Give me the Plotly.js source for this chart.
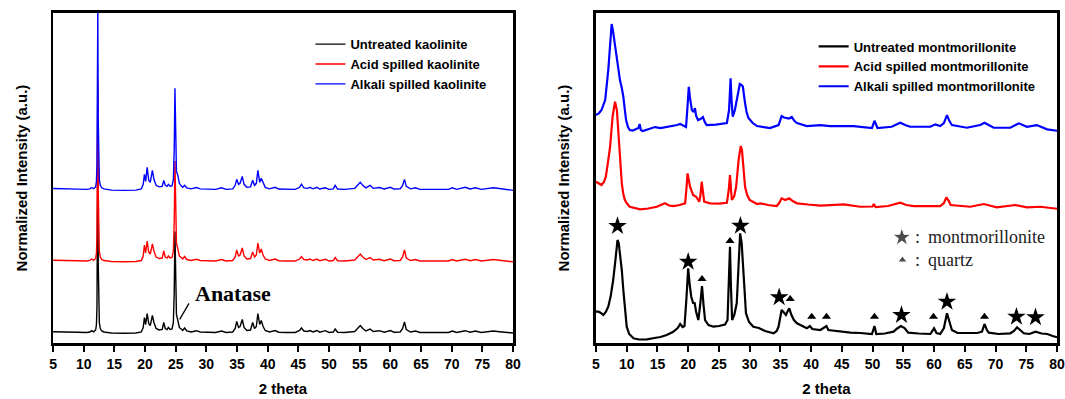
<!DOCTYPE html>
<html>
<head>
<meta charset="utf-8">
<script src="https://cdn.plot.ly/plotly-3.0.1.min.js"></script>
<style>html,body{margin:0;padding:0;background:#fff;}#chart{width:1065px;height:399px;}</style>
</head>
<body>
<div id="chart"></div>
<script>
// ---------- Kaolinite (left panel): 2-theta grid and intensities above each trace's own baseline ----------
const kaoX = [5.0, 6.0, 7.5, 9.0, 10.5, 11.0, 11.3, 11.6, 11.95, 12.08, 12.16, 12.23, 12.3, 12.37, 12.45, 12.55, 12.7, 12.95, 13.3, 14.5,
  16.5, 18.5, 19.4, 19.7, 19.9, 20.1, 20.35, 20.6, 20.85, 21.2, 21.45, 21.8, 22.3, 22.8, 23.05, 23.3, 23.6, 23.8, 24.1, 24.4,
  24.62, 24.76, 24.88, 25.0, 25.12, 25.35, 25.6, 25.9, 26.15, 26.45, 26.8, 27.5, 28.0, 28.4, 29.0, 30.0, 31.5, 32.5, 33.2, 34.3,
  34.7, 34.95, 35.25, 35.5, 35.85, 36.15, 36.6, 37.2, 37.55, 37.85, 38.15, 38.4, 38.7, 38.95, 39.25, 39.6, 40.3, 41.2, 41.8, 43.0,
  44.5, 45.2, 45.5, 45.9, 46.5, 46.9, 47.4, 48.0, 48.5, 49.4, 50.0, 50.7, 51.0, 51.4, 52.5, 54.2, 54.8, 55.1, 55.5, 56.0,
  56.7, 57.2, 58.2, 59.0, 60.0, 60.6, 61.6, 62.0, 62.3, 62.6, 63.3, 64.1, 64.8, 66.5, 68.0, 69.5, 70.1, 70.8, 72.2, 73.0,
  73.9, 74.8, 76.0, 76.8, 77.8, 79.0, 80.0];
const kaoUntreated = [0.8, 0.5, 0.3, 0.2, 0, 0.5, 1.8, 0.6, 2.5, 8, 25, 70, 180, 70, 25, 10, 4, 1.5, 0.5, -0.5,
  -0.8, -0.5, 0.5, 5, 15, 8, 19, 9, 7, 17, 10, 4, 2.5, 3, 10, 4, 3, 5, 3, 3.5,
  10, 40, 101, 40, 18, 12, 5, 3.5, 2, 4.5, 1.5, 0.5, 1, 1.8, 0.5, 0, 0, 1.5, 0, 0.5,
  4, 11, 5, 6, 13, 5, 2, 2.5, 10, 4, 6, 19, 8, 12, 6, 2, 0.5, 2, 0.3, 0,
  0, 2, 4.5, 1.5, 1, 2, 0.5, 2, 0.3, 1.8, 0, 0.5, 3.5, 0.3, 0, 1, 5, 7, 4, 1.5,
  3.5, 1, 1.8, 0.3, 2, 0.3, 0.5, 4, 10.5, 3, 0.5, 1.5, 0, 0.3, 0, 0, 1.5, 0, 1.8, 0.3,
  1.5, 0, 0.5, 1.5, 0.8, 0, -0.5];
const kaoAcid = [0.8, 0.5, 0.3, 0.2, 0, 0.6, 2, 0.6, 2.5, 8, 25, 70, 180, 70, 25, 10, 4, 1.5, 0.5, -0.5,
  -0.8, -0.5, 0.5, 5, 16, 8, 20, 9, 7, 17, 10, 4, 2.5, 3, 10, 4, 3, 5, 3, 3.5,
  10, 40, 100, 40, 18, 12, 5, 3.5, 2, 4.5, 1.5, 0.5, 1, 1.8, 0.5, 0, 0, 1.5, 0, 0.5,
  4, 11, 5, 6, 13, 5, 2, 2.5, 9, 4, 6, 18, 8, 12, 6, 2, 0.5, 2, 0.3, 0,
  0, 2, 4.5, 1.5, 1, 2, 0.5, 2, 0.3, 1.8, 0, 0.5, 3.5, 0.3, 0, 1, 5, 7, 4, 1.5,
  3.5, 1, 1.8, 0.3, 2, 0.3, 0.5, 4, 11, 3, 0.5, 1.5, 0, 0.3, 0, 0, 1.5, 0, 1.8, 0.3,
  1.5, 0, 0.5, 1.5, 0.8, 0, -0.8];
const kaoAlkali = [0.8, 0.5, 0.3, 0.2, 0, 0.5, 1.8, 0.6, 2.5, 8, 25, 70, 180, 70, 25, 10, 4, 1.5, 0.5, -0.8,
  -1, -0.8, 0.5, 5, 15, 8, 22, 9, 7, 19, 10, 4, 2.5, 3, 9, 4, 3, 5, 3, 3.5,
  10, 40, 101, 40, 18, 14, 6, 3.5, 2, 4, 1.5, 0.5, 1, 1.8, 0.5, 0, 0, 1.5, 0, 0.5,
  4, 10, 5, 6, 13, 5, 2, 2.5, 9, 4, 6, 19, 7, 11, 6, 2, 0.5, 2, 0.3, 0,
  0, 2, 5, 1.5, 1, 2, 0.5, 2, 0.3, 1.5, 0, 0.5, 4, 0.3, 0, 1, 5, 7, 4, 1.5,
  4, 1, 1.8, 0.3, 2, 0.3, 0.5, 4, 10, 3, 0.5, 1.5, 0, 0.3, 0, 0, 1.5, 0, 2, 0.3,
  1.5, 0, 0.5, 1.5, 0.8, 0, -1];

// ---------- Montmorillonite (right panel) ----------
const monUntreatedX = [5.0, 5.4, 5.8, 6.2, 6.6, 7.0, 7.4, 7.8, 8.2, 8.5, 8.7, 8.9, 9.2, 9.45, 9.75, 10.0, 10.4, 11.1, 12.0, 13.3,
  14.5, 15.5, 16.5, 17.5, 18.3, 18.7, 19.1, 19.4, 19.7, 20.0, 20.25, 20.5, 20.8, 21.05, 21.3, 21.65, 21.95, 22.25, 22.5, 22.75,
  23.3, 24.1, 25.0, 26.0, 26.4, 26.65, 26.8, 26.95, 27.15, 27.5, 27.9, 28.2, 28.45, 28.7, 28.9, 29.15, 29.4, 29.9, 30.6, 31.5,
  32.5, 33.9, 34.4, 34.7, 35.0, 35.2, 35.5, 35.9, 36.2, 36.45, 36.8, 37.2, 37.7, 38.5, 39.3, 39.8, 40.2, 41.5, 42.5, 42.8,
  44.0, 46.4, 48.0, 49.9, 50.3, 50.6, 52.0, 53.4, 54.0, 54.6, 55.2, 55.8, 57.5, 59.4, 60.0, 60.4, 61.0, 61.6, 62.1, 62.5,
  62.9, 63.8, 65.3, 67.0, 67.8, 68.2, 68.6, 68.9, 70.5, 72.4, 73.0, 73.5, 74.0, 74.6, 75.5, 76.5, 77.5, 78.4, 79.3, 80.0];
const monUntreated = [31.6, 31.6, 30.3, 28.3, 31.3, 36.6, 47.3, 63.3, 85.3, 103.3, 100.3, 90, 73.3, 53.3, 31.3, 16.6, 9.3, 5, 3.8, 4,
  5.3, 6.3, 8.3, 11.3, 15.3, 19.3, 16.3, 17.3, 43.3, 75, 58.3, 46.6, 40.3, 40.3, 31.3, 23.3, 38.3, 57.3, 38.3, 23.3,
  18.3, 16.6, 17.3, 18.8, 23.3, 63.3, 96.6, 58.3, 23.3, 28.3, 40, 78.3, 110, 100.3, 80, 53.3, 30, 21.3, 16.6, 15.3,
  12.3, 10, 12.3, 16.6, 28.3, 33.3, 31.3, 28.3, 32.3, 35, 28.3, 23.3, 20, 17.3, 15, 17.3, 14.3, 13.3, 17.3, 13.3,
  12.3, 10.6, 10.3, 9.3, 17.3, 9.3, 9.8, 11.6, 14.8, 17.3, 15.3, 10.6, 9.8, 9.3, 15, 10.3, 9.3, 15.3, 30, 21.3,
  13.3, 10.3, 10, 10.3, 11.6, 19.3, 13.3, 10.6, 9.3, 10, 12.3, 16, 13.3, 10, 9.3, 11.6, 9.8, 9.3, 7.3, 6];

const monAcidX = [5.0, 5.5, 5.9, 6.3, 6.6, 7.0, 7.3, 7.7, 8.1, 8.4, 8.6, 8.8, 9.0, 9.2, 9.45, 9.7, 10.1, 10.5, 12.2, 13.5,
  14.9, 15.7, 16.2, 16.9, 17.6, 18.6, 19.5, 19.7, 19.9, 20.1, 20.3, 20.8, 21.3, 21.8, 22.0, 22.2, 22.4, 22.6, 23.6, 25.0,
  26.3, 26.6, 26.8, 26.95, 27.1, 27.5, 27.8, 28.2, 28.55, 28.75, 28.9, 29.25, 29.6, 30.0, 31.2, 31.7, 33.0, 34.4, 34.8, 35.2,
  35.8, 36.45, 37.0, 37.7, 39.5, 41.5, 43.1, 45.3, 48.0, 50.0, 50.2, 50.5, 52.5, 54.5, 55.5, 56.7, 59.0, 61.0, 61.6, 62.0,
  62.4, 62.7, 65.9, 68.1, 70.2, 73.2, 75.1, 77.3, 80.0];
const monAcid = [41.6, 39.3, 38.3, 41.3, 46.6, 63.3, 76.6, 106.6, 121.6, 113.3, 93.3, 70, 53.3, 40, 29.3, 23.3, 19.3, 16.6, 14, 14.8,
  16.6, 18.8, 20, 17.8, 17.3, 18.3, 20, 33.3, 50, 43.3, 36.6, 28.3, 26.6, 21.6, 28.3, 41.6, 28.3, 21.6, 20, 19.8,
  20.6, 33.3, 48.3, 33.3, 23.3, 27.3, 36.6, 63.3, 77.3, 73.3, 60, 36.6, 28.3, 23.3, 19.3, 20, 18.3, 17.3, 20.3, 25,
  23.3, 25, 22.3, 20, 18.8, 17.8, 18.3, 19, 16.6, 16.8, 19.3, 16.3, 17.3, 20.6, 18.3, 17.3, 17.3, 17.3, 20.3, 26,
  22.3, 18.3, 16.6, 19.3, 16, 18.3, 16, 16.6, 14.6];

const monAlkaliX = [5.0, 5.5, 5.9, 6.5, 7.0, 7.3, 7.55, 7.75, 7.9, 8.15, 8.4, 8.65, 8.9, 9.2, 9.45, 9.7, 9.9, 10.2, 10.5, 11.0,
  11.6, 11.9, 12.1, 12.3, 12.6, 13.5, 14.6, 15.5, 17.05, 18.2, 18.7, 19.3, 19.65, 19.85, 20.1, 20.3, 20.6, 20.9, 21.1, 21.3,
  21.6, 22.0, 22.4, 22.7, 23.0, 24.5, 26.3, 26.65, 26.9, 27.05, 27.25, 27.6, 27.9, 28.2, 28.4, 28.7, 28.9, 29.25, 29.5, 29.8,
  30.5, 31.2, 33.3, 34.7, 35.0, 35.2, 35.6, 36.0, 36.4, 36.85, 37.3, 37.7, 39.3, 41.5, 43.1, 46.9, 49.9, 50.3, 50.8, 53.1,
  54.5, 55.3, 56.1, 59.4, 60.2, 61.0, 61.6, 62.1, 62.5, 62.9, 65.35, 67.5, 68.2, 69.7, 72.4, 73.8, 75.1, 76.7, 78.4, 80.0];
const monAlkali = [28.3, 30.3, 33.3, 43.3, 73.3, 103.3, 119.3, 113.3, 106.6, 95.3, 83.3, 73.3, 63.3, 55.3, 46.6, 33.3, 23.3, 16.3, 13.3, 12.8,
  14.3, 15.3, 19.3, 13.3, 12.3, 14.3, 16.3, 15.3, 16.6, 18.3, 19.3, 17.3, 16.3, 33.3, 56.6, 45.3, 33.3, 31.3, 35.3, 27.3,
  23.3, 24.3, 26.3, 21.3, 18.3, 18.8, 20.3, 33.3, 65, 43.3, 26.6, 33.3, 43.3, 55.3, 59.3, 58.3, 56.6, 40.3, 31.3, 25.3,
  20.3, 17.3, 15.3, 18.3, 23.3, 27.3, 25.8, 25.3, 24.8, 26.3, 22.3, 20.3, 17.3, 18.3, 17.3, 17.3, 15.3, 22.6, 15.3, 16.6,
  20.6, 18.3, 16.6, 16.6, 19, 17.3, 20.3, 28.3, 22.3, 18.3, 15.6, 18.3, 20.6, 15.6, 15.6, 20, 16.6, 18.3, 14, 12.6];

// Peak assignments on the untreated montmorillonite pattern
const montPeakX = [8.5, 20.0, 28.5, 34.8, 54.7, 62.1, 73.4, 76.5];
const montPeakY = [117.3, 81.6, 117.6, 46, 28.3, 41.6, 26.6, 26];
const quartzPeakX = [22.25, 26.8, 36.6, 40.1, 42.5, 50.3, 59.9, 68.2];
const quartzPeakY = [64.3, 102.3, 44.3, 26.6, 26.6, 26.6, 26.6, 26.6];

const kaoNames = ['Untreated kaolinite', 'Acid spilled kaolinite', 'Alkali spilled kaolinite'];
const monNames = ['Untreated montmorillonite', 'Acid spilled montmorillonite', 'Alkali spilled montmorillonite'];

// vertical stacking of the patterns (display offsets)
const kaoOffset = [10.8, 82.3, 154];
const monOffset = [0, 120, 200];
const colors = ['#000000', '#ff0000', '#0000ff'];

const shift = (arr, off) => arr.map(v => v + off);

const traces = [];
[kaoUntreated, kaoAcid, kaoAlkali].forEach((ys, i) => {
  traces.push({x: kaoX, y: shift(ys, kaoOffset[i]), type: 'scatter', mode: 'lines', name: kaoNames[i],
    line: {color: colors[i], width: 1.4}, xaxis: 'x', yaxis: 'y', legend: 'legend'});
});
[[monUntreatedX, monUntreated], [monAcidX, monAcid], [monAlkaliX, monAlkali]].forEach((d, i) => {
  traces.push({x: d[0], y: shift(d[1], monOffset[i]), type: 'scatter', mode: 'lines', name: monNames[i],
    line: {color: colors[i], width: 2.2}, xaxis: 'x2', yaxis: 'y2', legend: 'legend2'});
});
traces.push({x: montPeakX, y: montPeakY, type: 'scatter', mode: 'markers', showlegend: false,
  marker: {symbol: 'star', size: 14, color: '#000'}, xaxis: 'x2', yaxis: 'y2', hoverinfo: 'skip'});
traces.push({x: quartzPeakX, y: quartzPeakY, type: 'scatter', mode: 'markers', showlegend: false,
  marker: {symbol: 'triangle-up', size: 8, color: '#000'}, xaxis: 'x2', yaxis: 'y2', hoverinfo: 'skip'});
// key symbols
traces.push({x: [54.76, 54.86], y: [106, 83.3], type: 'scatter', mode: 'markers', showlegend: false,
  marker: {symbol: ['star', 'triangle-up'], size: [14, 8], color: '#000'}, xaxis: 'x2', yaxis: 'y2', hoverinfo: 'skip'});

const FONT = 'Liberation Sans, Arial, sans-serif';
const SERIF = 'Liberation Serif, Times New Roman, serif';
const xa = (dom, yref) => ({
  domain: dom, range: [5, 80], dtick: 5, tick0: 5, ticks: 'outside', ticklen: 6, tickwidth: 2, tickcolor: '#000',
  showline: true, mirror: true, linewidth: 2.5, linecolor: '#000', showgrid: false, zeroline: false,
  ticklabeloverflow: 'allow',
  tickfont: {family: FONT, size: 14, color: '#000', weight: 'bold'}, anchor: yref,
  title: {text: '2 theta', font: {family: FONT, size: 15, color: '#000', weight: 'bold'}, standoff: 13}
});
const ya = (xref) => ({
  domain: [0.1396, 0.968], range: [0, 330.6], showline: true, mirror: true, linewidth: 2.5, linecolor: '#000',
  ticks: '', showticklabels: false, showgrid: false, zeroline: false, anchor: xref,
  title: {text: 'Normalized Intensity (a.u.)', font: {family: FONT, size: 15, color: '#000', weight: 'bold'}, standoff: 20}
});
const legFont = {family: FONT, size: 13, color: '#000', weight: 'bold'};

const layout = {
  width: 1065, height: 399, margin: {l: 0, r: 0, t: 0, b: 0},
  paper_bgcolor: '#fff', plot_bgcolor: '#fff', showlegend: true,
  xaxis: xa([0.0498, 0.4817], 'y'), yaxis: ya('x'),
  xaxis2: xa([0.5596, 0.9925], 'y2'), yaxis2: ya('x2'),
  legend: {x: 0.2915, y: 0.927, xanchor: 'left', yanchor: 'top', bgcolor: 'rgba(0,0,0,0)', font: legFont, itemwidth: 30, tracegroupgap: 0},
  legend2: {x: 0.764, y: 0.921, xanchor: 'left', yanchor: 'top', bgcolor: 'rgba(0,0,0,0)', font: legFont, itemwidth: 30, tracegroupgap: 0},
  shapes: [{type: 'line', xref: 'x', yref: 'y', x0: 25.65, y0: 24, x1: 27.17, y1: 40, line: {color: '#000', width: 1.3}}],
  annotations: [
    {xref: 'x', yref: 'y', x: 34.3, y: 50.3, text: 'Anatase', showarrow: false, font: {family: SERIF, size: 22, color: '#000', weight: 'bold'}},
    {xref: 'x2', yref: 'y2', x: 56.6, y: 106, xanchor: 'left', text: ':\u2009 montmorillonite', showarrow: false, font: {family: SERIF, size: 18, color: '#222'}},
    {xref: 'x2', yref: 'y2', x: 56.6, y: 83.3, xanchor: 'left', text: ':\u2009 quartz', showarrow: false, font: {family: SERIF, size: 18, color: '#222'}}
  ]
};

Plotly.newPlot('chart', traces, layout, {displayModeBar: false, staticPlot: true});
</script>
</body>
</html>
